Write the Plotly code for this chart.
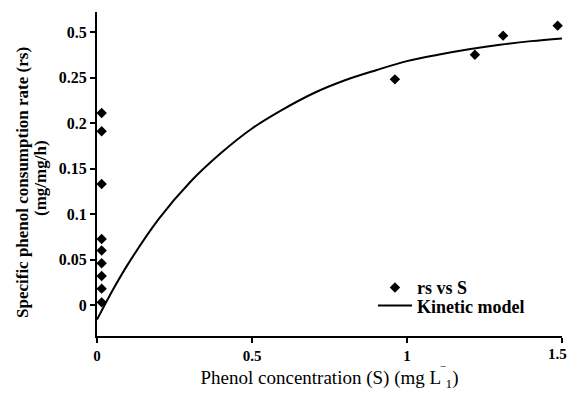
import plotly.graph_objects as go

# Observed data (rs vs S)
s_obs = [0.015, 0.015, 0.015, 0.015, 0.015, 0.015, 0.015, 0.015, 0.015,
         0.961, 1.219, 1.31, 1.486]
rs_obs = [0.211, 0.191, 0.133, 0.0725, 0.060, 0.046, 0.032, 0.018, 0.003,
          0.248, 0.275, 0.296, 0.307]

# Kinetic model curve
s_model = [0, 0.05, 0.1, 0.2, 0.3, 0.4, 0.5, 0.6, 0.7, 0.8, 0.9, 1.0, 1.1, 1.2, 1.3, 1.4, 1.5]
rs_model = [-0.016, 0.016, 0.045, 0.095, 0.135, 0.167, 0.194, 0.215, 0.233, 0.247,
            0.258, 0.268, 0.275, 0.281, 0.286, 0.290, 0.293]

y_tickvals = [0, 0.05, 0.1, 0.15, 0.2, 0.25, 0.3]
y_ticktext = ["0", "0.05", "0.1", "0.15", "0.2", "0.25", "0.5"]
x_tickvals = [0, 0.5, 1, 1.5]
x_ticktext = ["0", "0.5", "1", "1.5"]

FONT = "Liberation Serif"

fig = go.Figure()
fig.add_trace(go.Scatter(
    x=s_obs, y=rs_obs, mode="markers", name="<b>rs vs S</b>",
    marker=dict(symbol="diamond", size=8, color="black"),
    cliponaxis=False, legend="legend",
))
fig.add_trace(go.Scatter(
    x=s_model, y=rs_model, mode="lines", name="<b>Kinetic model</b>",
    line=dict(color="black", width=2, shape="spline"), legend="legend2",
))

legend_common = dict(xanchor="left", yanchor="top", bgcolor="rgba(0,0,0,0)",
                     font=dict(size=18, family=FONT), itemwidth=34)

# last x tick label is drawn as an annotation so it stays inside the page
shown_x_ticktext = x_ticktext[:-1] + [""]

fig.update_layout(
    width=569, height=393,
    margin=dict(l=97, r=7, t=12, b=57, autoexpand=False),
    paper_bgcolor="white", plot_bgcolor="white",
    font=dict(family=FONT, color="black", size=15),
    showlegend=True,
    legend=dict(x=0.5935, y=0.206, **legend_common),
    legend2=dict(x=0.5935, y=0.150, **legend_common),
    xaxis=dict(range=[0, 1.5], tickvals=x_tickvals, ticktext=shown_x_ticktext,
               automargin=False,
               showgrid=False, zeroline=False, showline=True, linecolor="black",
               linewidth=2, ticks="outside", ticklen=5, tickwidth=2, tickcolor="black",
               tickfont=dict(size=15, family=FONT, weight="bold"),
               title=dict(text="Phenol concentration (S) (mg L<sup>‾</sup><sub>1</sub>)",
                          font=dict(size=19, family=FONT), standoff=0)),
    yaxis=dict(range=[-0.034, 0.322], tickvals=y_tickvals, ticktext=y_ticktext,
               automargin=False,
               showgrid=False, zeroline=False, showline=True, linecolor="black",
               linewidth=2, ticks="outside", ticklen=5, tickwidth=2, tickcolor="black",
               tickfont=dict(size=16, family=FONT, weight="bold")),
    annotations=[
        dict(text="<b>Specific phenol consumption rate (rs)</b>", textangle=-90,
             xref="paper", yref="paper", x=(22 - 97) / 465, y=(336 - 183) / 324,
             xanchor="center", yanchor="middle", showarrow=False,
             font=dict(size=17, family=FONT)),
        dict(text="<b>(mg/mg/h)</b>", textangle=-90,
             xref="paper", yref="paper", x=(40 - 97) / 465, y=(336 - 178) / 324,
             xanchor="center", yanchor="middle", showarrow=False,
             font=dict(size=17, family=FONT)),
        dict(text="<b>" + x_ticktext[-1] + "</b>",
             xref="x", yref="paper", x=x_tickvals[-1], y=0,
             xanchor="right", yanchor="top", xshift=7, yshift=-8, showarrow=False,
             font=dict(size=15, family=FONT)),
    ],
)

fig.write_html("out.html")
